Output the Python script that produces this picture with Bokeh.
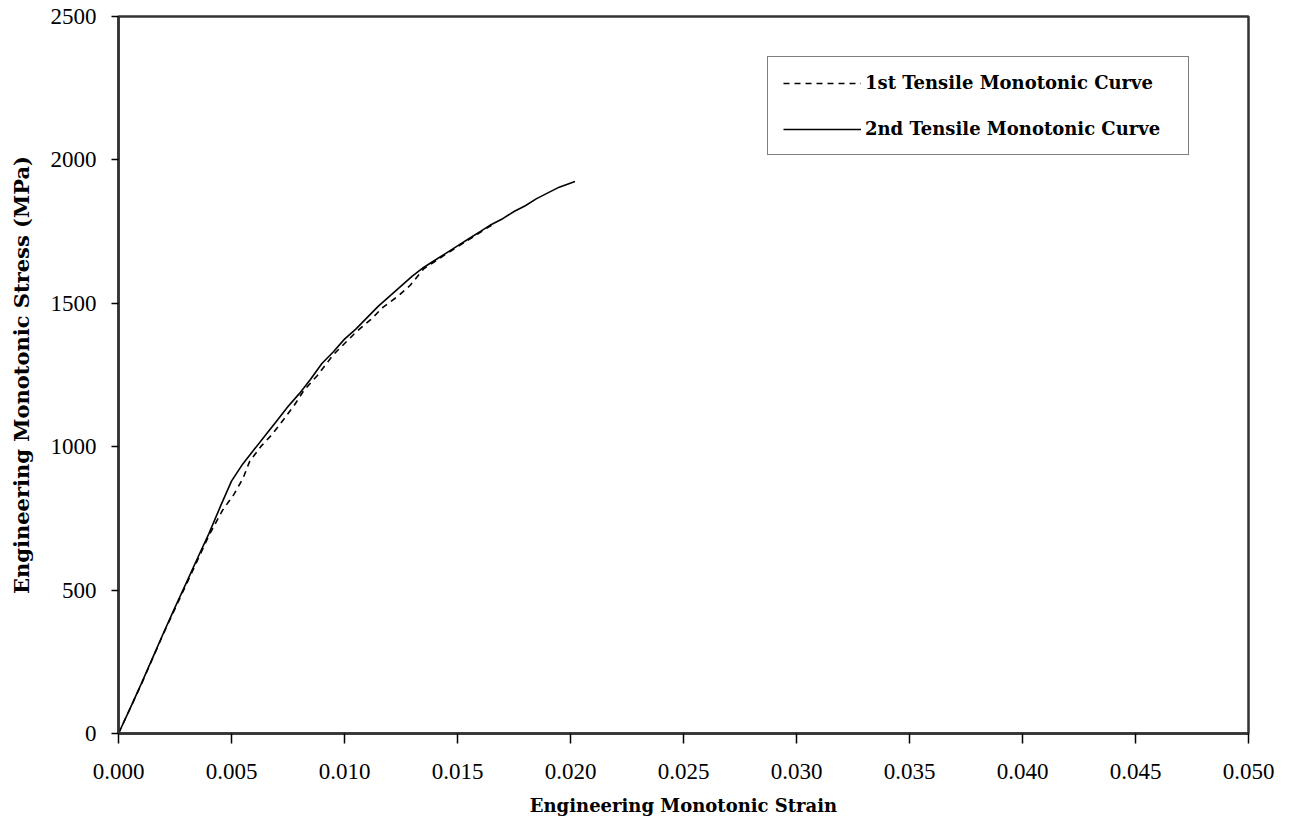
from bokeh.plotting import figure
from bokeh.models import Range1d, FixedTicker, NumeralTickFormatter, Legend, LegendItem
from bokeh.embed import file_html
from bokeh.resources import INLINE

# 2nd tensile monotonic curve (solid)
strain_2nd = [0.0, 0.0005, 0.001, 0.0015, 0.002, 0.0025, 0.003, 0.0035, 0.004, 0.0045,
              0.005, 0.0055, 0.006, 0.0065, 0.007, 0.0075, 0.008, 0.0085, 0.009, 0.0095,
              0.010, 0.0105, 0.011, 0.0115, 0.012, 0.0125, 0.013, 0.0135, 0.014, 0.0145,
              0.015, 0.0155, 0.016, 0.0165, 0.017, 0.0175, 0.018, 0.0185, 0.019, 0.0195, 0.0202]
stress_2nd = [0, 85, 172, 262, 352, 440, 525, 612, 697, 790,
              880, 940, 990, 1040, 1090, 1140, 1185, 1235, 1290, 1330,
              1375, 1410, 1450, 1490, 1525, 1560, 1595, 1625, 1650, 1675,
              1700, 1725, 1750, 1775, 1795, 1820, 1840, 1865, 1885, 1905, 1925]

# 1st tensile monotonic curve (dashed)
strain_1st = [0.0, 0.001, 0.002, 0.003, 0.004, 0.0046, 0.0051, 0.0055, 0.0058, 0.0063,
              0.0068, 0.0073, 0.0078, 0.0082, 0.0088, 0.0095, 0.0105, 0.0112, 0.0117, 0.0124,
              0.0129, 0.0135, 0.0145, 0.0155, 0.0166]
stress_1st = [0, 170, 350, 520, 690, 778, 833, 888, 948, 1001,
              1043, 1094, 1147, 1196, 1248, 1320, 1399, 1446, 1486, 1527,
              1562, 1620, 1672, 1722, 1777]

x_ticks = [0.0, 0.005, 0.010, 0.015, 0.020, 0.025, 0.030, 0.035, 0.040, 0.045, 0.050]
y_ticks = [0, 500, 1000, 1500, 2000, 2500]

label_1st = "1st Tensile Monotonic Curve"
label_2nd = "2nd Tensile Monotonic Curve"

p = figure(width=1276, height=818, output_backend="svg", toolbar_location=None,
           x_range=Range1d(0, 0.05), y_range=Range1d(0, 2500),
           min_border_left=118, min_border_right=28, min_border_top=16, min_border_bottom=85,
           background_fill_color="white", border_fill_color="white")

p.xgrid.visible = False
p.ygrid.visible = False
p.outline_line_color = "#333333"
p.outline_line_width = 2.5

r1 = p.line(strain_1st, stress_1st, line_color="black", line_width=1.6, line_dash="6 5")
r2 = p.line(strain_2nd, stress_2nd, line_color="black", line_width=1.6)

tick_font = "Liberation Serif"
label_font = "DejaVu Serif"

for ax in (p.xaxis[0], p.yaxis[0]):
    ax.axis_line_color = "#333333"
    ax.axis_line_width = 2.5
    ax.major_tick_line_color = "black"
    ax.major_tick_line_width = 1.5
    ax.major_tick_in = 0
    ax.minor_tick_line_color = None
    ax.major_label_text_font = tick_font
    ax.major_label_text_font_size = "23px"
    ax.major_label_text_color = "black"
    ax.axis_label_text_font = label_font
    ax.axis_label_text_font_style = "bold"
    ax.axis_label_text_color = "black"

p.xaxis.ticker = FixedTicker(ticks=x_ticks)
p.xaxis.formatter = NumeralTickFormatter(format="0.000")
p.xaxis.major_tick_out = 10
p.xaxis.major_label_standoff = 20
p.xaxis.axis_label = "Engineering Monotonic Strain"
p.xaxis.axis_label_text_font_size = "18px"
p.xaxis.axis_label_standoff = 13

p.yaxis.ticker = FixedTicker(ticks=y_ticks)
p.yaxis.formatter = NumeralTickFormatter(format="0")
p.yaxis.major_tick_out = 7
p.yaxis.major_label_standoff = 15
p.yaxis.axis_label = "Engineering Monotonic Stress (MPa)"
p.yaxis.axis_label_text_font_size = "21px"
p.yaxis.axis_label_standoff = 14

legend = Legend(items=[LegendItem(label=label_1st, renderers=[r1]),
                       LegendItem(label=label_2nd, renderers=[r2])],
                location=(649, 578))
legend.border_line_color = "black"
legend.border_line_width = 1.5
legend.background_fill_color = "white"
legend.background_fill_alpha = 1.0
legend.padding = 15
legend.spacing = 25
legend.margin = 0
legend.glyph_width = 78
legend.glyph_height = 20
legend.label_height = 20
legend.label_width = 308
legend.label_standoff = 4
legend.label_text_font = label_font
legend.label_text_font_style = "bold"
legend.label_text_font_size = "18px"
legend.label_text_color = "black"
p.add_layout(legend, "center")

open("out.html", "w").write(file_html(p, INLINE))
